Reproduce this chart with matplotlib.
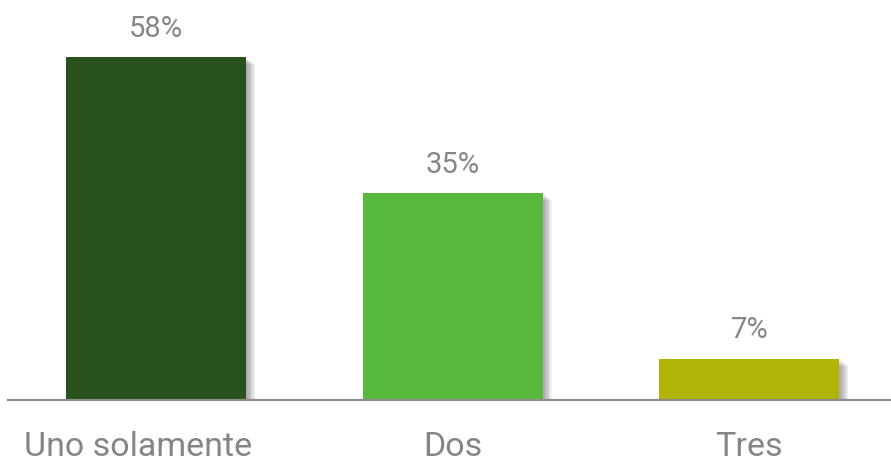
import matplotlib.pyplot as plt
import matplotlib.patheffects as pe
from matplotlib.transforms import ScaledTranslation

categories = ["Uno solamente", "Dos", "Tres"]
values = [58, 35, 7]
colors = ["#29511e", "#57b93b", "#b0b406"]

plt.rcParams['font.family'] = ['Roboto', 'DejaVu Sans']

fig = plt.figure(figsize=(8.91, 4.61), dpi=100)
ax = fig.add_axes([8 / 891, 61 / 461, 883 / 891, 396 / 461])

# soft drop shadow built from a few stacked offset shadows
shadow = [pe.SimplePatchShadow(offset=(d, -d * 0.8), shadow_rgbFace='#000000', alpha=0.06)
          for d in (1.5, 2.5, 3.5, 4.5, 5.5, 6.5)] + [pe.Normal()]

x = range(len(categories))
bars = ax.bar(x, values, width=0.607, color=colors, zorder=2)
for b in bars:
    b.set_path_effects(shadow)

for xi, v in zip(x, values):
    ax.annotate("%d%%" % v, (xi, v), xytext=(0, 10.5), textcoords='offset points',
                ha='center', va='bottom', fontsize=21, color='#858585')

ax.set_xlim(-0.5, 2.478)
ax.set_ylim(0, 67)

for s in ['top', 'right', 'left']:
    ax.spines[s].set_visible(False)
ax.spines['bottom'].set_color('#8c8c8c')
ax.spines['bottom'].set_linewidth(1.6)
ax.spines['bottom'].set_zorder(3)
ax.set_yticks([])
ax.set_xticks(list(x))
ax.set_xticklabels(categories, fontsize=24.5, color='#858585')
ax.tick_params(axis='x', length=0, pad=22)

# first label sits a little left of its bar
lbl = ax.get_xticklabels()[0]
lbl.set_transform(lbl.get_transform() + ScaledTranslation(-18 / 100, 0, fig.dpi_scale_trans))

fig.savefig('out.png', dpi=100)
